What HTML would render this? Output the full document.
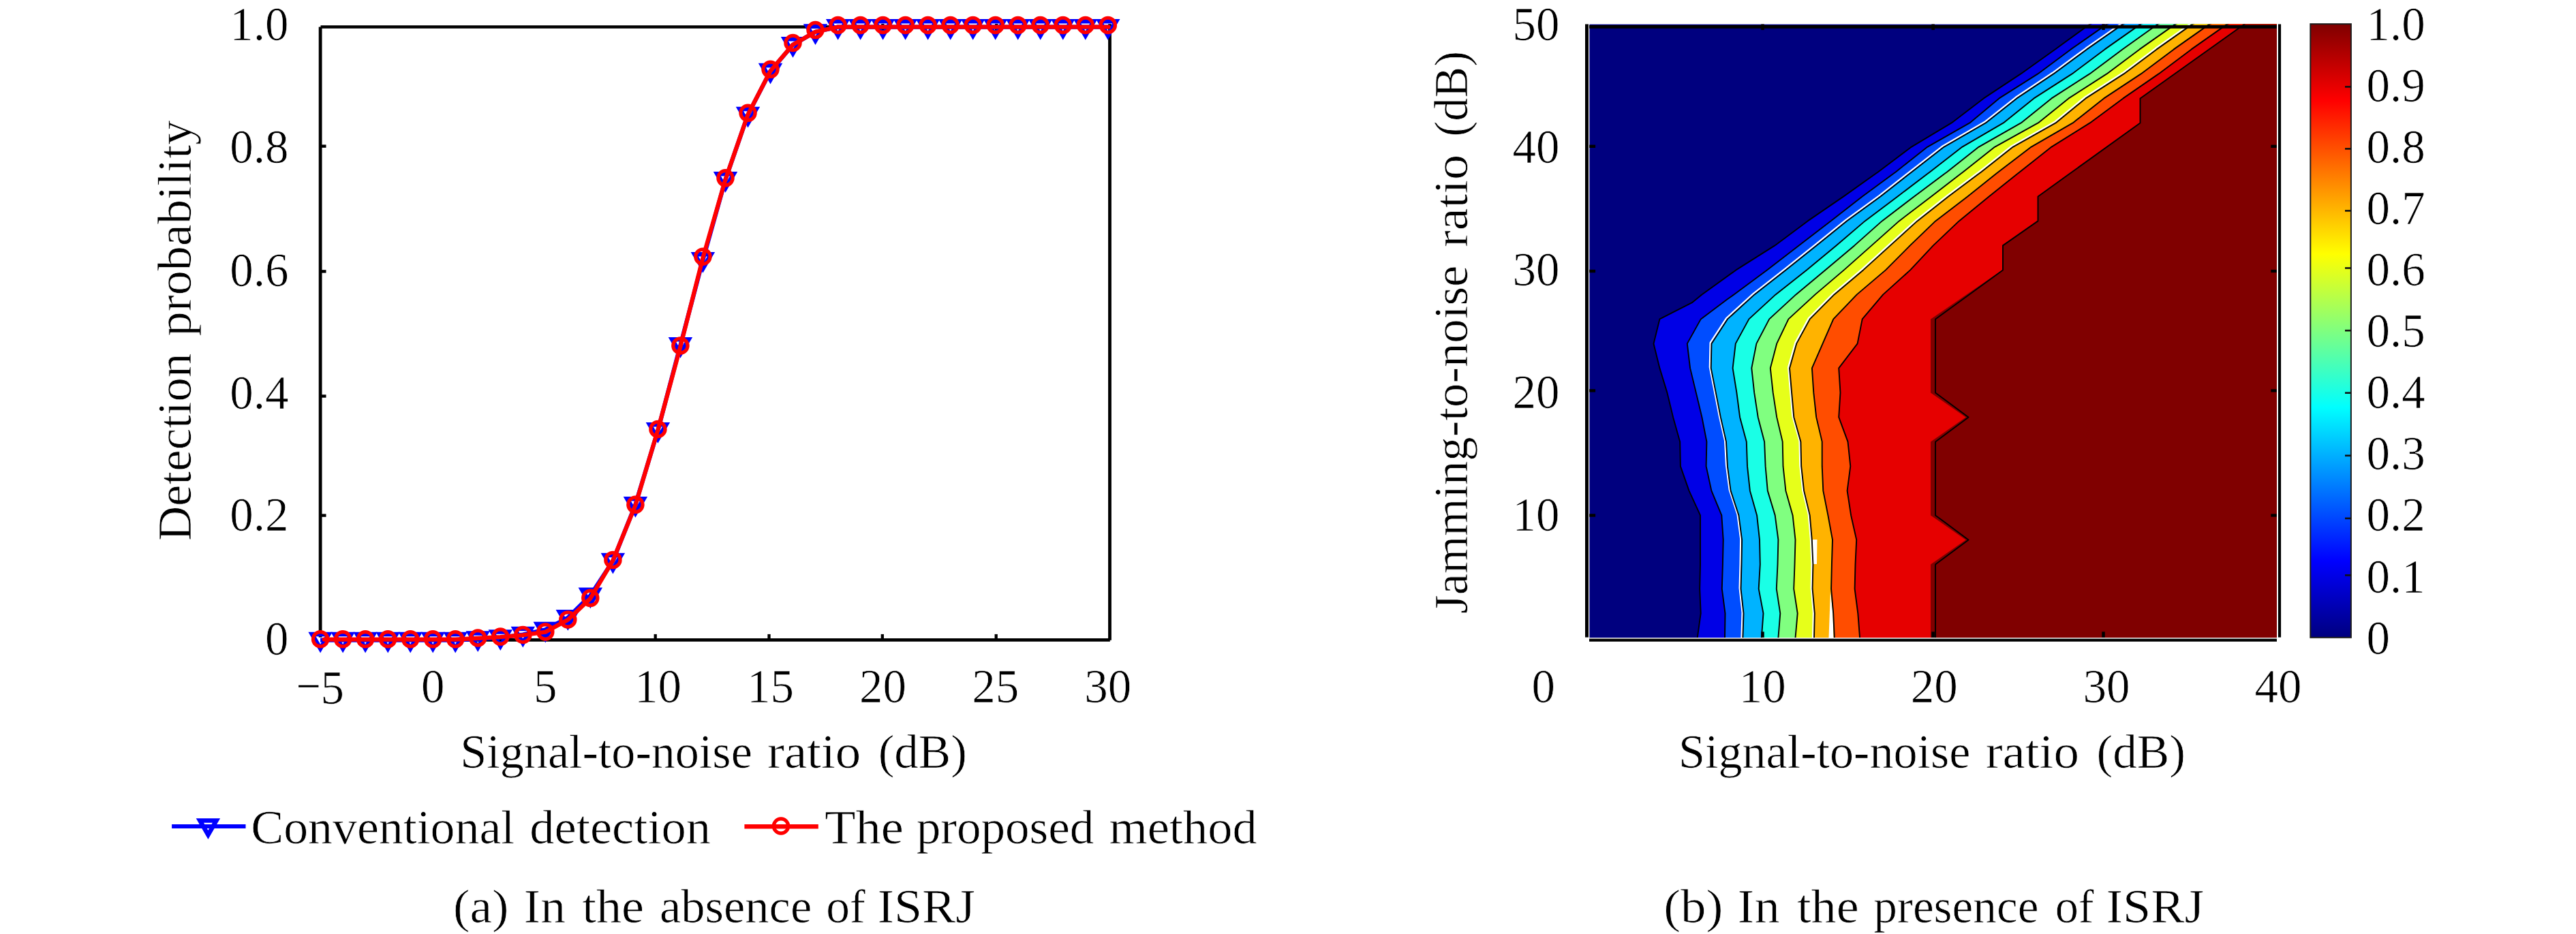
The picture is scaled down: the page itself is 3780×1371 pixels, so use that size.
<!DOCTYPE html>
<html lang="en">
<head>
<meta charset="utf-8">
<title>Detection probability figure</title>
<style>html,body{margin:0;padding:0;background:#fff}svg{display:block}</style>
</head>
<body>
<svg width="3780" height="1371" viewBox="0 0 3780 1371">
<rect width="3780" height="1371" fill="#fff"/>
<g id="plot-a">
<g fill="none" stroke="#000" stroke-linecap="butt">
<path d="M470.1 39.5 V935.5" stroke-width="4.8"/>
<path d="M1628.5 35.3 V939.8" stroke-width="4.8"/>
<path d="M470.5 39.5 H1630.9" stroke-width="4.4"/>
<path d="M472 939.4 H1628.8" stroke-width="4.7"/>
<path d="M470.1 214.6 H478.5" stroke-width="4.4"/>
<path d="M470.1 398.4 H478.5" stroke-width="4.4"/>
<path d="M470.1 581.5 H478.5" stroke-width="4.4"/>
<path d="M470.1 756.6 H478.5" stroke-width="4.4"/>
<path d="M628.3 939.4 V930.9" stroke-width="4.3"/>
<path d="M795 939.4 V930.9" stroke-width="4.3"/>
<path d="M961.7 939.4 V930.9" stroke-width="4.3"/>
<path d="M1128.5 939.4 V930.9" stroke-width="4.3"/>
<path d="M1294.8 939.4 V930.9" stroke-width="4.3"/>
<path d="M1295.3 35 V44.7" stroke-width="4.3"/>
<path d="M1461.7 939.4 V930.9" stroke-width="4.3"/>
<path d="M1462.2 35 V44.7" stroke-width="4.3"/>
</g>
<polyline points="470.1,939.6 503.1,939.6 536.1,939.6 569.2,939.6 602.2,939.6 635.2,939.6 668.2,939.6 701.2,937.8 734.3,936 767.3,931.5 800.3,924.3 833.3,906.8 866.3,874.2 899.4,823.5 932.4,740.7 965.4,631.8 998.4,506.7 1031.4,381.6 1064.5,263.7 1097.5,168.3 1130.5,104.4 1163.5,65.7 1196.5,46.8 1229.6,39.6 1262.6,39.6 1295.6,39.6 1328.6,39.6 1361.6,39.6 1394.7,39.6 1427.7,39.6 1460.7,39.6 1493.7,39.6 1526.7,39.6 1559.8,39.6 1592.8,39.6 1625.8,39.6" fill="none" stroke="#0000ff" stroke-width="6.2" stroke-linejoin="round" stroke-linecap="butt"/>
<g fill="none" stroke="#0000ff" stroke-width="6.5" stroke-linejoin="miter" stroke-miterlimit="10">
<path d="M458 931.1 H482.2 L470.1 952.1 Z"/>
<path d="M491 931.1 H515.2 L503.1 952.1 Z"/>
<path d="M524 931.1 H548.2 L536.1 952.1 Z"/>
<path d="M557.1 931.1 H581.3 L569.2 952.1 Z"/>
<path d="M590.1 931.1 H614.3 L602.2 952.1 Z"/>
<path d="M623.1 931.1 H647.3 L635.2 952.1 Z"/>
<path d="M656.1 931.1 H680.3 L668.2 952.1 Z"/>
<path d="M689.1 929.4 H713.3 L701.2 950.4 Z"/>
<path d="M722.2 927.5 H746.4 L734.3 948.5 Z"/>
<path d="M755.2 923 H779.4 L767.3 944 Z"/>
<path d="M788.2 915.9 H812.4 L800.3 936.9 Z"/>
<path d="M821.2 898.3 H845.4 L833.3 919.3 Z"/>
<path d="M854.2 865.7 H878.4 L866.3 886.7 Z"/>
<path d="M887.3 815 H911.5 L899.4 836 Z"/>
<path d="M920.3 732.2 H944.5 L932.4 753.2 Z"/>
<path d="M953.3 623.3 H977.5 L965.4 644.3 Z"/>
<path d="M986.3 498.3 H1010.5 L998.4 519.2 Z"/>
<path d="M1019.3 373.2 H1043.5 L1031.4 394.2 Z"/>
<path d="M1052.4 255.3 H1076.6 L1064.5 276.3 Z"/>
<path d="M1085.4 159.9 H1109.6 L1097.5 180.9 Z"/>
<path d="M1118.4 95.9 H1142.6 L1130.5 116.9 Z"/>
<path d="M1151.4 57.3 H1175.6 L1163.5 78.3 Z"/>
<path d="M1184.4 38.4 H1208.6 L1196.5 59.4 Z"/>
<path d="M1217.5 31.2 H1241.7 L1229.6 52.2 Z"/>
<path d="M1250.5 31.2 H1274.7 L1262.6 52.2 Z"/>
<path d="M1283.5 31.2 H1307.7 L1295.6 52.2 Z"/>
<path d="M1316.5 31.2 H1340.7 L1328.6 52.2 Z"/>
<path d="M1349.5 31.2 H1373.7 L1361.6 52.2 Z"/>
<path d="M1382.6 31.2 H1406.8 L1394.7 52.2 Z"/>
<path d="M1415.6 31.2 H1439.8 L1427.7 52.2 Z"/>
<path d="M1448.6 31.2 H1472.8 L1460.7 52.2 Z"/>
<path d="M1481.6 31.2 H1505.8 L1493.7 52.2 Z"/>
<path d="M1514.6 31.2 H1538.8 L1526.7 52.2 Z"/>
<path d="M1547.7 31.2 H1571.9 L1559.8 52.2 Z"/>
<path d="M1580.7 31.2 H1604.9 L1592.8 52.2 Z"/>
<path d="M1613.7 31.2 H1637.9 L1625.8 52.2 Z"/>
</g>
<polyline points="475.6,938.6 503.1,938.6 536.1,938.6 569.2,938.6 602.2,938.6 635.2,938.6 668.2,938.6 701.2,936.8 734.3,935 767.3,932.3 800.3,927.8 833.3,909.8 866.3,878.4 899.4,822.6 932.4,741.7 965.4,631.1 998.4,508.8 1031.4,378.5 1064.5,263.4 1097.5,168.1 1130.5,104.2 1163.5,65.6 1196.5,46.7 1229.6,39.5 1262.6,39.5 1295.6,39.5 1328.6,39.5 1361.6,39.5 1394.7,39.5 1427.7,39.5 1460.7,39.5 1493.7,39.5 1526.7,39.5 1559.8,39.5 1592.8,39.5 1626.8,39.5" fill="none" stroke="#ff0000" stroke-width="6.2" stroke-linejoin="round" stroke-linecap="round"/>
<g fill="none" stroke="#ff0000" stroke-width="5.2">
<circle cx="470.1" cy="938.2" r="10.65"/>
<circle cx="503.1" cy="938.2" r="10.65"/>
<circle cx="536.1" cy="938.2" r="10.65"/>
<circle cx="569.2" cy="938.2" r="10.65"/>
<circle cx="602.2" cy="938.2" r="10.65"/>
<circle cx="635.2" cy="938.2" r="10.65"/>
<circle cx="668.2" cy="938.2" r="10.65"/>
<circle cx="701.2" cy="936.4" r="10.65"/>
<circle cx="734.3" cy="934.6" r="10.65"/>
<circle cx="767.3" cy="931.9" r="10.65"/>
<circle cx="800.3" cy="927.4" r="10.65"/>
<circle cx="833.3" cy="909.4" r="10.65"/>
<circle cx="866.3" cy="877.8" r="10.65"/>
<circle cx="899.4" cy="821.9" r="10.65"/>
<circle cx="932.4" cy="740.8" r="10.65"/>
<circle cx="965.4" cy="630" r="10.65"/>
<circle cx="998.4" cy="507.4" r="10.65"/>
<circle cx="1031.4" cy="376.7" r="10.65"/>
<circle cx="1064.5" cy="261.3" r="10.65"/>
<circle cx="1097.5" cy="165.8" r="10.65"/>
<circle cx="1130.5" cy="101.8" r="10.65"/>
<circle cx="1163.5" cy="63" r="10.65"/>
<circle cx="1196.5" cy="44.1" r="10.65"/>
<circle cx="1229.6" cy="36.9" r="10.65"/>
<circle cx="1262.6" cy="36.9" r="10.65"/>
<circle cx="1295.6" cy="36.9" r="10.65"/>
<circle cx="1328.6" cy="36.9" r="10.65"/>
<circle cx="1361.6" cy="36.9" r="10.65"/>
<circle cx="1394.7" cy="36.9" r="10.65"/>
<circle cx="1427.7" cy="36.9" r="10.65"/>
<circle cx="1460.7" cy="36.9" r="10.65"/>
<circle cx="1493.7" cy="36.9" r="10.65"/>
<circle cx="1526.7" cy="36.9" r="10.65"/>
<circle cx="1559.8" cy="36.9" r="10.65"/>
<circle cx="1592.8" cy="36.9" r="10.65"/>
<circle cx="1625.8" cy="36.9" r="10.65"/>
</g>
</g>
<g id="legend">
<path d="M252.1 1212.9 H360.5" stroke="#0000ff" stroke-width="6" fill="none"/>
<path d="M293.3 1204.45 H317.5 L305.4 1225.45 Z" stroke="#0000ff" stroke-width="6.5" stroke-miterlimit="10" fill="none"/>
<path d="M1092.4 1213.3 H1200.8" stroke="#ff0000" stroke-width="6.4" fill="none"/>
<circle cx="1146" cy="1212.5" r="10.65" stroke="#ff0000" stroke-width="5.2" fill="none"/>
</g>
<g id="plot-b">
<clipPath id="cb"><rect x="2332.2" y="35.4" width="1008.8" height="900.6"/></clipPath>
<g clip-path="url(#cb)">
<rect x="2332.2" y="35.4" width="1008.8" height="900.6" fill="#00007f"/>
<path d="M2490.7 939 L2490.7 936.4 L2495.7 900.4 L2494.2 864.4 L2495 828.4 L2495 792.4 L2495 756.4 L2478.5 720.4 L2465.9 684.4 L2465.2 648.4 L2455.1 612.4 L2446.4 576.4 L2435.4 540.4 L2426.5 504.4 L2435.4 468.4 L2483.5 443.8 L2497.3 432.4 L2547.4 396.4 L2604.4 360.4 L2652.7 324.4 L2705.3 288.4 L2755.9 252.4 L2803.7 216.4 L2863.7 180.4 L2910.8 144.4 L2965.3 108.4 L3015.7 72.4 L3065.3 36.4 L3075.2 31.4 L3346 31.4 L3346 939 Z" fill="#0000e6"/>
<path d="M2531 939 L2531 936.4 L2531.5 900.4 L2526.8 864.4 L2527.9 828.4 L2528.7 792.4 L2526.3 756.4 L2511.4 720.4 L2503.6 684.4 L2504.4 648.4 L2497.4 612.4 L2488.8 576.4 L2480.1 540.4 L2475.8 504.4 L2495.8 468.4 L2534 439.8 L2544.3 432.4 L2592.9 396.4 L2639.6 360.4 L2686.5 324.4 L2732.7 288.4 L2781.8 252.4 L2827.2 216.4 L2890.4 180.4 L2933.5 144.4 L2990.4 108.4 L3038.8 72.4 L3090.4 36.4 L3100.7 31.4 L3346 31.4 L3346 939 Z" fill="#004dff"/>
<path d="M2557.4 939 L2557.4 936.4 L2558.5 900.4 L2554.5 864.4 L2555.5 828.4 L2556.1 792.4 L2551.4 756.4 L2539.6 720.4 L2534.9 684.4 L2533 648.4 L2524.8 612.4 L2517.8 576.4 L2510.7 540.4 L2511.5 504.4 L2535 468.4 L2574.5 432.4 L2620.4 396.4 L2665.5 360.4 L2710 324.4 L2759.4 288.4 L2805.3 252.4 L2851.5 216.4 L2913.9 180.4 L2959.4 144.4 L3013.5 108.4 L3062.3 72.4 L3113.9 36.4 L3124.2 31.4 L3346 31.4 L3346 939 Z" fill="#00b3ff"/>
<path d="M2584.8 939 L2584.8 936.4 L2587.5 900.4 L2580.7 864.4 L2582.8 828.4 L2582 792.4 L2578.1 756.4 L2567.9 720.4 L2564 684.4 L2562.8 648.4 L2553.1 612.4 L2548.4 576.4 L2542.6 540.4 L2546.8 504.4 L2566.4 468.4 L2605.5 432.4 L2651 396.4 L2694.5 360.4 L2736.7 324.4 L2784.5 288.4 L2831.9 252.4 L2878.2 216.4 L2939.8 180.4 L2984.5 144.4 L3040.6 108.4 L3088.6 72.4 L3139.8 36.4 L3150 31.4 L3346 31.4 L3346 939 Z" fill="#1affe6"/>
<path d="M2609.4 939 L2609.4 936.4 L2612.3 900.4 L2606.8 864.4 L2608.5 828.4 L2609.4 792.4 L2604.7 756.4 L2593.8 720.4 L2590.6 684.4 L2589.1 648.4 L2579.7 612.4 L2574.2 576.4 L2570.3 540.4 L2577.4 504.4 L2596.2 468.4 L2635.3 432.4 L2678.4 396.4 L2721.2 360.4 L2761.7 324.4 L2808.8 288.4 L2857 252.4 L2902.5 216.4 L2965.7 180.4 L3010.4 144.4 L3066.4 108.4 L3114.5 72.4 L3164.9 36.4 L3175 31.4 L3346 31.4 L3346 939 Z" fill="#80ff80"/>
<path d="M2634.5 939 L2634.5 936.4 L2637.7 900.4 L2632.2 864.4 L2633.5 828.4 L2634.5 792.4 L2630.6 756.4 L2620.4 720.4 L2616.5 684.4 L2615.7 648.4 L2607.2 612.4 L2601.7 576.4 L2597.8 540.4 L2607.2 504.4 L2624.4 468.4 L2663.5 432.4 L2705.8 396.4 L2746.4 360.4 L2786.8 324.4 L2833.9 288.4 L2880.6 252.4 L2926 216.4 L2990.8 180.4 L3035.5 144.4 L3091.5 108.4 L3139.6 72.4 L3190.8 36.4 L3201 31.4 L3346 31.4 L3346 939 Z" fill="#e6ff1a"/>
<path d="M2662 939 L2662 936.4 L2662.8 900.4 L2659.6 864.4 L2660.4 828.4 L2658.8 792.4 L2655.7 756.4 L2647.1 720.4 L2643.2 684.4 L2642.4 648.4 L2632.3 612.4 L2629.1 576.4 L2626 540.4 L2636.2 504.4 L2655.8 468.4 L2691.5 432.4 L2734.1 396.4 L2773.8 360.4 L2813.5 324.4 L2859 288.4 L2907.2 252.4 L2952.7 216.4 L3016.6 180.4 L3060.5 144.4 L3116.6 108.4 L3164.7 72.4 L3215.8 36.4 L3226 31.4 L3346 31.4 L3346 939 Z" fill="#ffb300"/>
<path d="M2691.8 939 L2691.8 936.4 L2690.2 900.4 L2687.1 864.4 L2687.9 828.4 L2689 792.4 L2682.4 756.4 L2675.3 720.4 L2673.7 684.4 L2673.7 648.4 L2665.2 612.4 L2661.3 576.4 L2658.9 540.4 L2674.6 504.4 L2690.3 468.4 L2724.7 432.4 L2767 396.4 L2802.8 360.4 L2840.2 324.4 L2887.2 288.4 L2932.3 252.4 L2979.4 216.4 L3041.7 180.4 L3087.2 144.4 L3141.7 108.4 L3189.8 72.4 L3240.9 36.4 L3251.1 31.4 L3346 31.4 L3346 939 Z" fill="#ff4d00"/>
<path d="M2729.1 939 L2729.1 936.4 L2726.3 900.4 L2721.6 864.4 L2722.5 828.4 L2724.2 792.4 L2716.1 756.4 L2710.6 720.4 L2715.3 684.4 L2711.5 648.4 L2698.2 612.4 L2700.5 576.4 L2698.2 540.4 L2725.6 504.4 L2732.7 468.4 L2763.2 432.4 L2803.1 396.4 L2836.8 360.4 L2874.7 324.4 L2918.6 288.4 L2963.7 252.4 L3009.2 216.4 L3066.8 180.4 L3115.4 144.4 L3167.6 108.4 L3215.6 72.4 L3266.8 36.4 L3277 31.4 L3346 31.4 L3346 939 Z" fill="#e60000"/>
<path d="M2833 939 L2833 936.4 L2833 828.4 L2884.5 792.4 L2833 756.4 L2833 648.4 L2884.5 612.4 L2833 576.4 L2833 468.4 L2938 396.4 L2938 360.4 L2990.5 324.4 L2990.5 288.4 L3140.5 180.4 L3140.5 144.4 L3292 36.4 L3298 31.4 L3346 31.4 L3346 939 Z" fill="#800000"/>
<path d="M2659.5 792 L2666.5 792 L2666 828 L2660.5 828 Z" fill="#fff"/>
<path d="M2683.5 936.3 L2690.5 936.3 L2689.5 900 L2686 868 Z" fill="#fff"/>
<path d="M2555.6 937.7 L2555.6 935.1 L2556.7 899.1 L2552.7 863.1 L2553.7 827.1 L2554.3 791.1 L2549.6 755.1 L2537.8 719.1 L2533.1 683.1 L2531.2 647.1 L2523 611.1 L2516 575.1 L2508.9 539.1 L2509.7 503.1 L2533.2 467.1 L2572.7 431.1 L2618.6 395.1 L2663.7 359.1 L2708.2 323.1 L2757.6 287.1 L2803.5 251.1 L2849.7 215.1 L2912.1 179.1 L2957.6 143.1 L3011.7 107.1 L3060.5 71.1 L3112.1 35.1 L3122.4 30.1" fill="none" stroke="#fff" stroke-width="2.4" stroke-linejoin="round"/>
<path d="M2660.2 937.7 L2660.2 935.1 L2661 899.1 L2657.8 863.1 L2658.6 827.1 L2657 791.1 L2653.9 755.1 L2645.3 719.1 L2641.4 683.1 L2640.6 647.1 L2630.5 611.1 L2627.3 575.1 L2624.2 539.1 L2634.4 503.1 L2654 467.1 L2689.7 431.1 L2732.3 395.1 L2772 359.1 L2811.7 323.1 L2857.2 287.1 L2905.4 251.1 L2950.9 215.1 L3014.8 179.1 L3058.7 143.1 L3114.8 107.1 L3162.9 71.1 L3214 35.1 L3224.2 30.1" fill="none" stroke="#fff" stroke-width="2.4" stroke-linejoin="round"/>
<path d="M2490.7 939 L2490.7 936.4 L2495.7 900.4 L2494.2 864.4 L2495 828.4 L2495 792.4 L2495 756.4 L2478.5 720.4 L2465.9 684.4 L2465.2 648.4 L2455.1 612.4 L2446.4 576.4 L2435.4 540.4 L2426.5 504.4 L2435.4 468.4 L2483.5 443.8 L2497.3 432.4 L2547.4 396.4 L2604.4 360.4 L2652.7 324.4 L2705.3 288.4 L2755.9 252.4 L2803.7 216.4 L2863.7 180.4 L2910.8 144.4 L2965.3 108.4 L3015.7 72.4 L3065.3 36.4 L3075.2 31.4" fill="none" stroke="#000" stroke-width="1.9" stroke-linejoin="round"/>
<path d="M2531 939 L2531 936.4 L2531.5 900.4 L2526.8 864.4 L2527.9 828.4 L2528.7 792.4 L2526.3 756.4 L2511.4 720.4 L2503.6 684.4 L2504.4 648.4 L2497.4 612.4 L2488.8 576.4 L2480.1 540.4 L2475.8 504.4 L2495.8 468.4 L2534 439.8 L2544.3 432.4 L2592.9 396.4 L2639.6 360.4 L2686.5 324.4 L2732.7 288.4 L2781.8 252.4 L2827.2 216.4 L2890.4 180.4 L2933.5 144.4 L2990.4 108.4 L3038.8 72.4 L3090.4 36.4 L3100.7 31.4" fill="none" stroke="#000" stroke-width="1.9" stroke-linejoin="round"/>
<path d="M2557.4 939 L2557.4 936.4 L2558.5 900.4 L2554.5 864.4 L2555.5 828.4 L2556.1 792.4 L2551.4 756.4 L2539.6 720.4 L2534.9 684.4 L2533 648.4 L2524.8 612.4 L2517.8 576.4 L2510.7 540.4 L2511.5 504.4 L2535 468.4 L2574.5 432.4 L2620.4 396.4 L2665.5 360.4 L2710 324.4 L2759.4 288.4 L2805.3 252.4 L2851.5 216.4 L2913.9 180.4 L2959.4 144.4 L3013.5 108.4 L3062.3 72.4 L3113.9 36.4 L3124.2 31.4" fill="none" stroke="#000" stroke-width="1.9" stroke-linejoin="round"/>
<path d="M2584.8 939 L2584.8 936.4 L2587.5 900.4 L2580.7 864.4 L2582.8 828.4 L2582 792.4 L2578.1 756.4 L2567.9 720.4 L2564 684.4 L2562.8 648.4 L2553.1 612.4 L2548.4 576.4 L2542.6 540.4 L2546.8 504.4 L2566.4 468.4 L2605.5 432.4 L2651 396.4 L2694.5 360.4 L2736.7 324.4 L2784.5 288.4 L2831.9 252.4 L2878.2 216.4 L2939.8 180.4 L2984.5 144.4 L3040.6 108.4 L3088.6 72.4 L3139.8 36.4 L3150 31.4" fill="none" stroke="#000" stroke-width="1.9" stroke-linejoin="round"/>
<path d="M2609.4 939 L2609.4 936.4 L2612.3 900.4 L2606.8 864.4 L2608.5 828.4 L2609.4 792.4 L2604.7 756.4 L2593.8 720.4 L2590.6 684.4 L2589.1 648.4 L2579.7 612.4 L2574.2 576.4 L2570.3 540.4 L2577.4 504.4 L2596.2 468.4 L2635.3 432.4 L2678.4 396.4 L2721.2 360.4 L2761.7 324.4 L2808.8 288.4 L2857 252.4 L2902.5 216.4 L2965.7 180.4 L3010.4 144.4 L3066.4 108.4 L3114.5 72.4 L3164.9 36.4 L3175 31.4" fill="none" stroke="#000" stroke-width="1.9" stroke-linejoin="round"/>
<path d="M2634.5 939 L2634.5 936.4 L2637.7 900.4 L2632.2 864.4 L2633.5 828.4 L2634.5 792.4 L2630.6 756.4 L2620.4 720.4 L2616.5 684.4 L2615.7 648.4 L2607.2 612.4 L2601.7 576.4 L2597.8 540.4 L2607.2 504.4 L2624.4 468.4 L2663.5 432.4 L2705.8 396.4 L2746.4 360.4 L2786.8 324.4 L2833.9 288.4 L2880.6 252.4 L2926 216.4 L2990.8 180.4 L3035.5 144.4 L3091.5 108.4 L3139.6 72.4 L3190.8 36.4 L3201 31.4" fill="none" stroke="#000" stroke-width="1.9" stroke-linejoin="round"/>
<path d="M2662 939 L2662 936.4 L2662.8 900.4 L2659.6 864.4 L2660.4 828.4 L2658.8 792.4 L2655.7 756.4 L2647.1 720.4 L2643.2 684.4 L2642.4 648.4 L2632.3 612.4 L2629.1 576.4 L2626 540.4 L2636.2 504.4 L2655.8 468.4 L2691.5 432.4 L2734.1 396.4 L2773.8 360.4 L2813.5 324.4 L2859 288.4 L2907.2 252.4 L2952.7 216.4 L3016.6 180.4 L3060.5 144.4 L3116.6 108.4 L3164.7 72.4 L3215.8 36.4 L3226 31.4" fill="none" stroke="#000" stroke-width="1.9" stroke-linejoin="round"/>
<path d="M2691.8 939 L2691.8 936.4 L2690.2 900.4 L2687.1 864.4 L2687.9 828.4 L2689 792.4 L2682.4 756.4 L2675.3 720.4 L2673.7 684.4 L2673.7 648.4 L2665.2 612.4 L2661.3 576.4 L2658.9 540.4 L2674.6 504.4 L2690.3 468.4 L2724.7 432.4 L2767 396.4 L2802.8 360.4 L2840.2 324.4 L2887.2 288.4 L2932.3 252.4 L2979.4 216.4 L3041.7 180.4 L3087.2 144.4 L3141.7 108.4 L3189.8 72.4 L3240.9 36.4 L3251.1 31.4" fill="none" stroke="#000" stroke-width="1.9" stroke-linejoin="round"/>
<path d="M2729.1 939 L2729.1 936.4 L2726.3 900.4 L2721.6 864.4 L2722.5 828.4 L2724.2 792.4 L2716.1 756.4 L2710.6 720.4 L2715.3 684.4 L2711.5 648.4 L2698.2 612.4 L2700.5 576.4 L2698.2 540.4 L2725.6 504.4 L2732.7 468.4 L2763.2 432.4 L2803.1 396.4 L2836.8 360.4 L2874.7 324.4 L2918.6 288.4 L2963.7 252.4 L3009.2 216.4 L3066.8 180.4 L3115.4 144.4 L3167.6 108.4 L3215.6 72.4 L3266.8 36.4 L3277 31.4" fill="none" stroke="#000" stroke-width="1.9" stroke-linejoin="round"/>
<path d="M2840 939 L2840 936.4 L2840 828.4 L2888.5 792.4 L2840 756.4 L2840 648.4 L2888.5 612.4 L2840 576.4 L2840 468.4 L2939 396.4 L2939 360.4 L2990.5 324.4 L2990.5 288.4 L3140.5 180.4 L3140.5 144.4 L3292 36.4 L3298 31.4" fill="none" stroke="#000" stroke-width="1.9" stroke-linejoin="round"/>
</g>
<g fill="none" stroke="#000">
<path d="M2328.5 35.4 V935.6" stroke-width="5"/>
<path d="M3345 35.4 V935.6" stroke-width="4.2"/>
<path d="M2332 39.3 H3341" stroke-width="4.8"/>
<path d="M2332 939.6 H3341" stroke-width="4.4"/>
<path d="M2586.5 927.3 V935.7" stroke-width="4.5"/>
<path d="M2586.5 35.5 V44" stroke-width="4.5"/>
<path d="M2836.6 927.3 V935.7" stroke-width="4.5"/>
<path d="M2836.6 35.5 V44" stroke-width="4.5"/>
<path d="M3086.5 927.3 V935.7" stroke-width="4.5"/>
<path d="M3086.5 35.5 V44" stroke-width="4.5"/>
<path d="M2332.1 214.8 H2341.1" stroke-width="4.4"/>
<path d="M3332.3 214.8 H3340.8" stroke-width="4.3"/>
<path d="M2332.1 398 H2341.1" stroke-width="4.4"/>
<path d="M3332.3 398 H3340.8" stroke-width="4.3"/>
<path d="M2332.1 573.4 H2341.1" stroke-width="4.4"/>
<path d="M3332.3 573.4 H3340.8" stroke-width="4.3"/>
<path d="M2332.1 756.5 H2341.1" stroke-width="4.4"/>
<path d="M3332.3 756.5 H3340.8" stroke-width="4.3"/>
</g>
</g>
<g id="colorbar">
<linearGradient id="jet" x1="0" y1="1" x2="0" y2="0">
<stop offset="0" stop-color="#00007f"/>
<stop offset="0.125" stop-color="#0000ff"/>
<stop offset="0.375" stop-color="#00ffff"/>
<stop offset="0.625" stop-color="#ffff00"/>
<stop offset="0.875" stop-color="#ff0000"/>
<stop offset="1" stop-color="#7f0000"/>
</linearGradient>
<rect x="3390.3" y="35.2" width="59.6" height="900.6" fill="url(#jet)" stroke="#1c1c1c" stroke-width="2"/>
<path d="M3441 127.4 H3450" stroke="#111" stroke-width="2.6" fill="none"/>
<path d="M3441 218.4 H3450" stroke="#111" stroke-width="2.6" fill="none"/>
<path d="M3441 309.4 H3450" stroke="#111" stroke-width="2.6" fill="none"/>
<path d="M3441 393.5 H3450" stroke="#111" stroke-width="2.6" fill="none"/>
<path d="M3441 485.2 H3450" stroke="#111" stroke-width="2.6" fill="none"/>
<path d="M3441 576.7 H3450" stroke="#111" stroke-width="2.6" fill="none"/>
<path d="M3441 668.8 H3450" stroke="#111" stroke-width="2.6" fill="none"/>
<path d="M3441 760.9 H3450" stroke="#111" stroke-width="2.6" fill="none"/>
<path d="M3441 844.4 H3450" stroke="#111" stroke-width="2.6" fill="none"/>
</g>
<g id="labels" font-family='"Liberation Serif", "DejaVu Serif", serif' fill="#000" stroke="#fff" stroke-width="0.7">
<text x="423.5" y="59.2" text-anchor="end" font-size="69">1.0</text>
<text x="423.5" y="238.7" text-anchor="end" font-size="69">0.8</text>
<text x="423.5" y="419.7" text-anchor="end" font-size="69">0.6</text>
<text x="423.5" y="600.2" text-anchor="end" font-size="69">0.4</text>
<text x="423.5" y="779.2" text-anchor="end" font-size="69">0.2</text>
<text x="423.5" y="961.2" text-anchor="end" font-size="69">0</text>
<text x="635.2" y="1031" text-anchor="middle" font-size="69">0</text>
<text x="800.3" y="1031" text-anchor="middle" font-size="69">5</text>
<text x="965.4" y="1031" text-anchor="middle" font-size="69">10</text>
<text x="1130.5" y="1031" text-anchor="middle" font-size="69">15</text>
<text x="1295.6" y="1031" text-anchor="middle" font-size="69">20</text>
<text x="1460.7" y="1031" text-anchor="middle" font-size="69">25</text>
<text x="1625.8" y="1031" text-anchor="middle" font-size="69">30</text>
<text x="470.0" y="1032.5" text-anchor="middle" font-size="69"><tspan font-size="63" dy="-4.2" stroke="none">−</tspan><tspan dy="4.2">5</tspan></text>
<text y="1126.5" font-size="69"><tspan x="675.33" textLength="428.43" lengthAdjust="spacingAndGlyphs">Signal-to-noise</tspan> <tspan x="1125.98" textLength="137.19" lengthAdjust="spacingAndGlyphs">ratio</tspan> <tspan x="1288.71" textLength="130.15" lengthAdjust="spacingAndGlyphs">(dB)</tspan></text>
<text y="0" font-size="69" transform="translate(280 792) rotate(-90)"><tspan x="-2.05" textLength="275.40" lengthAdjust="spacingAndGlyphs">Detection</tspan> <tspan x="298.55" textLength="316.75" lengthAdjust="spacingAndGlyphs">probability</tspan></text>
<text y="1238" font-size="69"><tspan x="368.29" textLength="386.95" lengthAdjust="spacingAndGlyphs">Conventional</tspan> <tspan x="777.37" textLength="265.66" lengthAdjust="spacingAndGlyphs">detection</tspan></text>
<text y="1238" font-size="69"><tspan x="1210.11" textLength="115.76" lengthAdjust="spacingAndGlyphs">The</tspan> <tspan x="1344.77" textLength="260.51" lengthAdjust="spacingAndGlyphs">proposed</tspan> <tspan x="1627.43" textLength="217.17" lengthAdjust="spacingAndGlyphs">method</tspan></text>
<text y="1354" font-size="69"><tspan x="665.01" textLength="81.46" lengthAdjust="spacingAndGlyphs">(a)</tspan> <tspan x="768.63" textLength="61.31" lengthAdjust="spacingAndGlyphs">In</tspan> <tspan x="854.35" textLength="90.73" lengthAdjust="spacingAndGlyphs">the</tspan> <tspan x="967.95" textLength="223.26" lengthAdjust="spacingAndGlyphs">absence</tspan> <tspan x="1212.19" textLength="57.79" lengthAdjust="spacingAndGlyphs">of</tspan> <tspan x="1287.53" textLength="143.50" lengthAdjust="spacingAndGlyphs">ISRJ</tspan></text>
<text y="1354" font-size="69"><tspan x="2441.15" textLength="87.26" lengthAdjust="spacingAndGlyphs">(b)</tspan> <tspan x="2549.60" textLength="62.06" lengthAdjust="spacingAndGlyphs">In</tspan> <tspan x="2636.95" textLength="90.73" lengthAdjust="spacingAndGlyphs">the</tspan> <tspan x="2749.20" textLength="242.24" lengthAdjust="spacingAndGlyphs">presence</tspan> <tspan x="3015.63" textLength="56.85" lengthAdjust="spacingAndGlyphs">of</tspan> <tspan x="3090.52" textLength="143.70" lengthAdjust="spacingAndGlyphs">ISRJ</tspan></text>
<text x="2288.5" y="59.2" text-anchor="end" font-size="69">50</text>
<text x="2288.5" y="239.2" text-anchor="end" font-size="69">40</text>
<text x="2288.5" y="419.2" text-anchor="end" font-size="69">30</text>
<text x="2288.5" y="599.2" text-anchor="end" font-size="69">20</text>
<text x="2288.5" y="779.2" text-anchor="end" font-size="69">10</text>
<text x="2264.8" y="1031" text-anchor="middle" font-size="69">0</text>
<text x="2586.2" y="1031" text-anchor="middle" font-size="69">10</text>
<text x="2838.2" y="1031" text-anchor="middle" font-size="69">20</text>
<text x="3090.9" y="1031" text-anchor="middle" font-size="69">30</text>
<text x="3343" y="1031" text-anchor="middle" font-size="69">40</text>
<text y="1127" font-size="69"><tspan x="2463.03" textLength="428.43" lengthAdjust="spacingAndGlyphs">Signal-to-noise</tspan> <tspan x="2913.68" textLength="137.19" lengthAdjust="spacingAndGlyphs">ratio</tspan> <tspan x="3076.40" textLength="130.68" lengthAdjust="spacingAndGlyphs">(dB)</tspan></text>
<text y="0" font-size="69" transform="translate(2153.4 899.4) rotate(-90)"><tspan x="-1.44" textLength="511.26" lengthAdjust="spacingAndGlyphs">Jamming-to-noise</tspan> <tspan x="536.39" textLength="136.26" lengthAdjust="spacingAndGlyphs">ratio</tspan> <tspan x="698.82" textLength="125.64" lengthAdjust="spacingAndGlyphs">(dB)</tspan></text>
<text x="3472.5" y="58.6" font-size="69">1.0</text>
<text x="3472.5" y="148.7" font-size="69">0.9</text>
<text x="3472.5" y="238.8" font-size="69">0.8</text>
<text x="3472.5" y="328.9" font-size="69">0.7</text>
<text x="3472.5" y="419" font-size="69">0.6</text>
<text x="3472.5" y="509.1" font-size="69">0.5</text>
<text x="3472.5" y="599.2" font-size="69">0.4</text>
<text x="3472.5" y="689.3" font-size="69">0.3</text>
<text x="3472.5" y="779.4" font-size="69">0.2</text>
<text x="3472.5" y="869.5" font-size="69">0.1</text>
<text x="3472.5" y="959.6" font-size="69">0</text>
</g>
</svg>
</body>
</html>
